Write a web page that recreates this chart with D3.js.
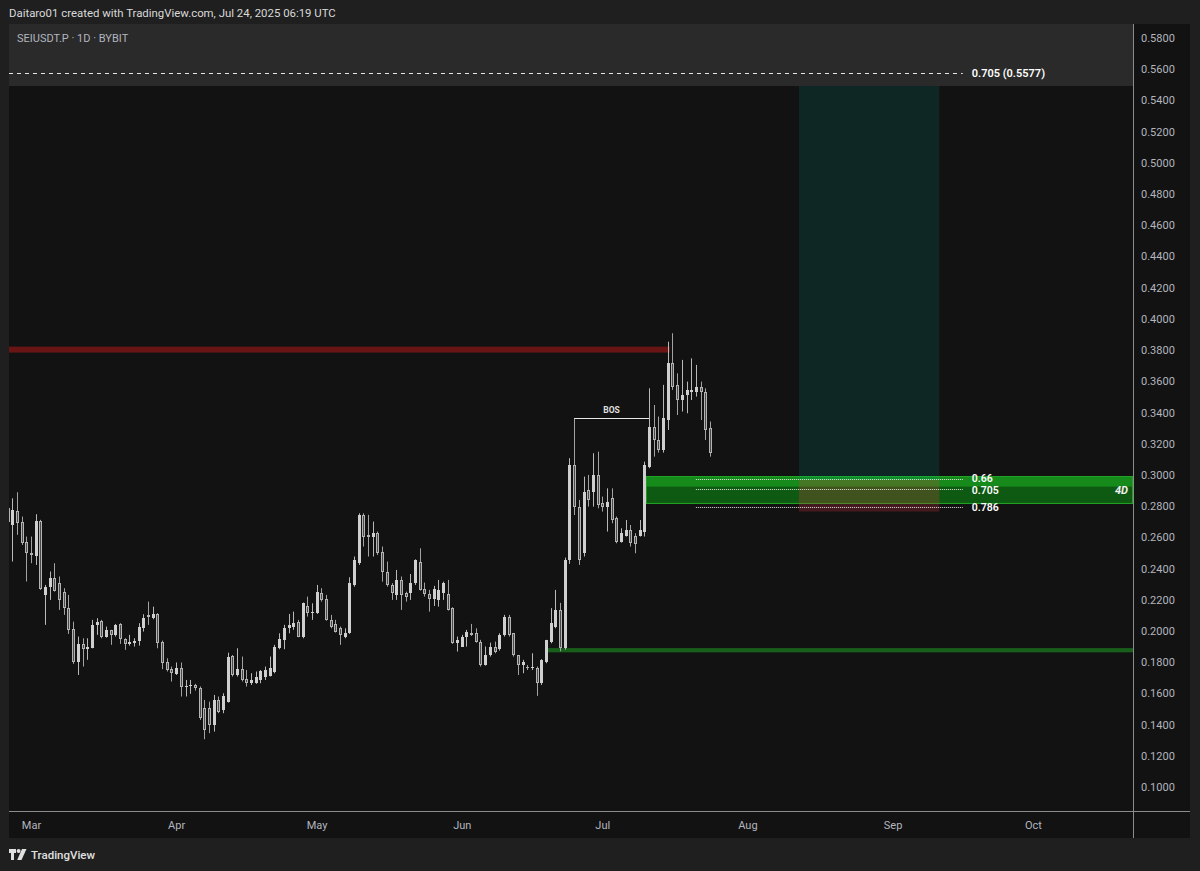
<!DOCTYPE html>
<html><head><meta charset="utf-8">
<script src="https://cdn.jsdelivr.net/npm/d3@7"></script>
<style>
html,body{margin:0;padding:0;background:#1f1f1f;}
svg{display:block;}
text{font-family:Roboto,"Liberation Sans",sans-serif;}
</style></head>
<body>
<svg id="c" width="1200" height="871"></svg>
<script>
// ---------------- DATA ----------------
const startDate = "2025-02-24"; // first daily candle
const opens  = [0.2790,0.2680,0.2771,0.2701,0.2573,
 0.2502,0.2481,0.2707,0.2231,0.2284,0.2342,0.2306,0.2252,0.2146,0.2011,0.1804,0.1917,0.1883,0.1889,0.2039,0.2067,0.1964,0.2003,0.1975,0.2043,0.1947,0.1915,0.1921,0.1936,0.2022,0.2103,0.2082,0.2109,0.1930,0.1798,0.1754,
 0.1723,0.1765,0.1644,0.1648,0.1654,0.1633,0.1505,0.1505,0.1398,0.1558,0.1494,0.1547,0.1840,0.1718,0.1755,0.1690,0.1669,0.1665,0.1686,0.1708,0.1712,0.1740,0.1889,0.1943,0.2017,0.2028,0.2060,0.1964,0.2160,0.2118,
 0.2113,0.2246,0.2203,0.2071,0.2045,0.2017,0.1964,0.1985,0.2295,0.2434,0.2744,0.2615,0.2605,0.2626,0.2509,0.2380,0.2295,0.2231,0.2327,0.2242,0.2242,0.2306,0.2445,0.2267,0.2237,0.2203,0.2199,0.2242,0.2237,0.2145,0.1921,
 0.1900,0.1964,0.1985,0.1985,0.1932,0.1782,0.1846,0.1900,0.1883,0.1975,0.2092,0.1985,0.1846,0.1782,0.1772,0.1761,0.1761,0.1665,0.1804,0.1932,0.2028,0.2135,0.1891,0.2455,0.3064,0.2797,0.2498,0.2904,0.2893,0.3000,
 0.2818,0.2797,0.2850,0.2722,0.2573,0.2609,0.2647,0.2609,0.2609,0.2637,0.3053,0.3310,0.3224,0.3160,0.3352,0.3715,0.3577,0.3480,0.3512,0.3534,0.3534,0.3566,0.3534,0.3299];
const highs  = [0.2830,0.2850,0.2889,0.2733,0.2605,
 0.2605,0.2748,0.2712,0.2295,0.2381,0.2434,0.2349,0.2274,0.2231,0.2060,0.1964,0.1953,0.1953,0.2071,0.2082,0.2071,0.2028,0.2007,0.2045,0.2050,0.1953,0.1975,0.1953,0.2050,0.2107,0.2188,0.2156,0.2114,0.1938,0.1825,0.1772,
 0.1798,0.1798,0.1686,0.1686,0.1661,0.1644,0.1558,0.1547,0.1590,0.1580,0.1601,0.1861,0.1846,0.1889,0.1836,0.1750,0.1729,0.1740,0.1750,0.1772,0.1836,0.1911,0.1985,0.2039,0.2109,0.2124,0.2071,0.2182,0.2220,0.2177,
 0.2295,0.2274,0.2231,0.2103,0.2071,0.2028,0.2017,0.2344,0.2477,0.2754,0.2754,0.2744,0.2701,0.2637,0.2541,0.2445,0.2306,0.2391,0.2349,0.2252,0.2365,0.2459,0.2530,0.2310,0.2263,0.2289,0.2327,0.2316,0.2327,0.2152,0.1964,
 0.1975,0.2007,0.2045,0.2017,0.1943,0.1900,0.1925,0.1932,0.1985,0.2103,0.2103,0.1985,0.1846,0.1815,0.1782,0.1857,0.1772,0.1819,0.1943,0.2146,0.2263,0.2180,0.2470,0.3107,0.3363,0.2840,0.2989,0.3000,0.3139,0.3149,
 0.2861,0.2914,0.2914,0.2733,0.2658,0.2711,0.2679,0.2626,0.2711,0.3085,0.3555,0.3448,0.3374,0.3577,0.3854,0.3908,0.3651,0.3737,0.3598,0.3747,0.3705,0.3598,0.3555,0.3342];
const lows   = [0.2680,0.2445,0.2616,0.2551,0.2317,
 0.2434,0.2423,0.2263,0.2039,0.2199,0.2252,0.2135,0.2103,0.1981,0.1789,0.1718,0.1772,0.1815,0.1889,0.1975,0.1953,0.1957,0.1911,0.1964,0.1917,0.1879,0.1906,0.1900,0.1906,0.1996,0.2039,0.2075,0.1889,0.1755,0.1740,0.1676,
 0.1718,0.1580,0.1580,0.1597,0.1618,0.1430,0.1306,0.1345,0.1355,0.1473,0.1473,0.1541,0.1708,0.1708,0.1676,0.1644,0.1654,0.1661,0.1665,0.1686,0.1708,0.1729,0.1883,0.1883,0.1985,0.2007,0.1960,0.1953,0.2092,0.2071,
 0.2109,0.2188,0.2066,0.2017,0.1990,0.1911,0.1953,0.1981,0.2284,0.2423,0.2541,0.2477,0.2477,0.2487,0.2316,0.2284,0.2199,0.2199,0.2135,0.2188,0.2199,0.2295,0.2259,0.2220,0.2124,0.2160,0.2156,0.2199,0.2131,0.1917,0.1868,
 0.1900,0.1900,0.1968,0.1925,0.1772,0.1778,0.1836,0.1857,0.1874,0.1964,0.1964,0.1836,0.1718,0.1729,0.1750,0.1750,0.1584,0.1654,0.1793,0.1921,0.2017,0.1870,0.1880,0.2430,0.2743,0.2423,0.2477,0.2797,0.2797,0.2786,
 0.2765,0.2637,0.2690,0.2562,0.2566,0.2605,0.2541,0.2498,0.2605,0.2605,0.3043,0.3117,0.3143,0.3143,0.3288,0.3545,0.3384,0.3406,0.3395,0.3480,0.3502,0.3352,0.3224,0.3117];
const closes = [0.2700,0.2776,0.2695,0.2562,0.2498,
 0.2487,0.2707,0.2267,0.2284,0.2338,0.2257,0.2199,0.2146,0.2007,0.1804,0.1917,0.1883,0.1900,0.2039,0.2056,0.1964,0.2007,0.1975,0.2035,0.1947,0.1915,0.1928,0.1936,0.2028,0.2086,0.2092,0.2107,0.1926,0.1793,0.1750,0.1733,
 0.1765,0.1644,0.1650,0.1654,0.1633,0.1441,0.1366,0.1398,0.1558,0.1483,0.1580,0.1836,0.1718,0.1757,0.1686,0.1669,0.1686,0.1703,0.1746,0.1750,0.1761,0.1900,0.1947,0.2022,0.2039,0.2054,0.1964,0.2177,0.2113,0.2124,
 0.2252,0.2199,0.2071,0.2028,0.1996,0.1975,0.1985,0.2306,0.2455,0.2744,0.2605,0.2600,0.2626,0.2498,0.2380,0.2295,0.2242,0.2327,0.2231,0.2220,0.2306,0.2455,0.2263,0.2237,0.2203,0.2267,0.2263,0.2306,0.2135,0.1921,0.1943,
 0.1964,0.1996,0.1975,0.1932,0.1782,0.1846,0.1900,0.1868,0.1975,0.2092,0.1975,0.1846,0.1782,0.1804,0.1761,0.1772,0.1665,0.1815,0.1943,0.2050,0.2135,0.1891,0.2455,0.3064,0.2797,0.2455,0.2893,0.2840,0.3000,0.2808,
 0.2797,0.2829,0.2711,0.2573,0.2626,0.2647,0.2562,0.2558,0.2647,0.3064,0.3310,0.3224,0.3160,0.3363,0.3715,0.3566,0.3480,0.3512,0.3544,0.3544,0.3566,0.3534,0.3288,0.3139];

const priceTicks = [0.10,0.12,0.14,0.16,0.18,0.20,0.22,0.24,0.26,0.28,0.30,0.32,0.34,0.36,0.38,0.40,0.42,0.44,0.46,0.48,0.50,0.52,0.54,0.56,0.58];
const monthTickDates = ["2025-03-01","2025-04-01","2025-05-01","2025-06-01","2025-07-01","2025-08-01","2025-09-01","2025-10-01"];
const monthTickLabels = ["Mar","Apr","May","Jun","Jul","Aug","Sep","Oct"];

// drawings
const resistanceBand = [0.3822, 0.3784];   const resistanceStart = "2025-02-20", resistanceEnd = "2025-07-15";
const supportBand = [0.1890, 0.1863];      const supportStart = "2025-06-19";
const zoneTop = 0.2993, zoneMid = 0.2925, zoneBottom = 0.2814; const zoneStart = "2025-07-10"; const zoneLabel = "4D";
const fibLabels = ["0.66","0.705","0.786"]; const fibPrices = [0.2974,0.2908,0.2793];
const fibLabelNudge = [-1, 1, 0];
const fibStart = "2025-07-21", fibEnd = "2025-09-16";
const topFibLabel = "0.705 (0.5577)", topFibPrice = 0.5577;
const posStart = "2025-08-12", posEnd = "2025-09-11";
const posEntry = 0.2968, posStop = 0.2765, posTarget = 0.62;
const bosLabel = "BOS", bosPrice = 0.3363, bosStart = "2025-06-25", bosEnd = "2025-07-11";

const titleText = "Daitaro01 created with TradingView.com, Jul 24, 2025 06:19 UTC";
const legendText = "SEIUSDT.P · 1D · BYBIT";

// ---------------- LAYOUT ----------------
const W = 1200, H = 871;
const plotL = 9, plotR = 1133, plotT = 24, plotB = 811, panelR = 1190, panelB = 838;
const svg = d3.select("#c");
const D = s => new Date(s + "T00:00:00Z");

const x = d3.scaleUtc().domain([D("2025-03-01"), D("2025-10-01")]).range([31, 1033]);
const y = d3.scaleLinear().domain([0.10, 0.58]).range([787, 38]);

const start = D(startDate);
const data = opens.map((o, i) => ({date: d3.utcDay.offset(start, i), o, h: highs[i], l: lows[i], c: closes[i]}));

svg.append("rect").attr("width", W).attr("height", H).attr("fill", "#1f1f1f");
svg.append("rect").attr("x", plotL).attr("y", plotT).attr("width", panelR - plotL).attr("height", panelB - plotT).attr("fill", "#121212");

const defs = svg.append("defs");
defs.append("clipPath").attr("id", "pc").append("rect")
  .attr("x", plotL).attr("y", plotT).attr("width", plotR - plotL).attr("height", plotB - plotT);

const g = svg.append("g").attr("clip-path", "url(#pc)");

// resistance (red) band
g.append("rect").attr("x", plotL).attr("y", y(resistanceBand[0]))
  .attr("width", x(D(resistanceEnd)) + 2 - plotL).attr("height", y(resistanceBand[1]) - y(resistanceBand[0]))
  .attr("fill", "#6a1515");

// support (green) line
g.append("rect").attr("x", x(D(supportStart))).attr("y", y(supportBand[0]))
  .attr("width", plotR - x(D(supportStart))).attr("height", y(supportBand[1]) - y(supportBand[0]))
  .attr("fill", "#185f1b");

// 4D zone
const zx0 = x(D(zoneStart)) + 1.5;
g.append("rect").attr("x", zx0).attr("y", y(zoneTop)).attr("width", plotR - zx0).attr("height", y(zoneBottom) - y(zoneTop)).attr("fill", "#0f5a12");
g.append("rect").attr("x", zx0).attr("y", y(zoneTop)).attr("width", plotR - zx0).attr("height", y(zoneMid) - y(zoneTop)).attr("fill", "#168a1b");
g.append("rect").attr("x", zx0 + 0.5).attr("y", y(zoneTop) + 0.5).attr("width", plotR - zx0 - 1).attr("height", y(zoneBottom) - y(zoneTop) - 1)
  .attr("fill", "none").attr("stroke", "#22a227").attr("stroke-width", 1);

// long position tool
const px0 = x(D(posStart)), px1 = x(D(posEnd));
g.append("rect").attr("x", px0).attr("y", y(posTarget)).attr("width", px1 - px0).attr("height", y(posEntry) - y(posTarget))
  .attr("fill", "rgba(0,170,150,0.14)");
g.append("rect").attr("x", px0).attr("y", y(posEntry)).attr("width", px1 - px0).attr("height", y(posStop) - y(posEntry))
  .attr("fill", "rgba(242,54,69,0.22)");

// candles
const cg = g.append("g");
data.forEach(d => {
  const cx = Math.round(x(d.date));
  const bull = d.c >= d.o;
  cg.append("line").attr("x1", cx + 0.5).attr("x2", cx + 0.5)
    .attr("y1", y(d.h)).attr("y2", y(d.l))
    .attr("stroke", bull ? "#b8b8b8" : "#a2a2a2").attr("stroke-width", 1);
  const top = Math.round(y(Math.max(d.o, d.c))), bot = Math.round(y(Math.min(d.o, d.c)));
  const hgt = Math.max(1, bot - top);
  if (bull) {
    cg.append("rect").attr("x", cx - 1).attr("y", top).attr("width", 3).attr("height", hgt).attr("fill", "#cfcfcf");
  } else {
    cg.append("rect").attr("x", cx - 1).attr("y", top).attr("width", 3).attr("height", hgt).attr("fill", "#b4b4b4");
    if (hgt > 2) cg.append("rect").attr("x", cx).attr("y", top + 1).attr("width", 1).attr("height", hgt - 2).attr("fill", "#4a4a4a");
  }
});

// BOS
const bx0 = x(D(bosStart)), bx1 = x(D(bosEnd));
g.append("line").attr("x1", bx0).attr("x2", bx1).attr("y1", Math.round(y(bosPrice)) + 0.5).attr("y2", Math.round(y(bosPrice)) + 0.5)
  .attr("stroke", "#e8e8e8").attr("stroke-width", 1.2);
g.append("text").attr("x", (bx0 + bx1) / 2).attr("y", y(bosPrice) - 5).attr("text-anchor", "middle")
  .attr("font-size", 8.5).attr("font-weight", "bold").attr("fill", "#e0e0e0").text(bosLabel);

// fib dotted lines + labels
const fx0 = x(D(fibStart)), fx1 = x(D(fibEnd));
fibPrices.forEach((p, i) => {
  g.append("line").attr("x1", fx0).attr("x2", fx1).attr("y1", Math.round(y(p)) + 0.5).attr("y2", Math.round(y(p)) + 0.5)
    .attr("stroke", "#ffffff").attr("stroke-width", 1).attr("stroke-dasharray", "1,1").attr("opacity", 0.85);
  g.append("text").attr("x", fx1 + 9).attr("y", y(p) + fibLabelNudge[i]).attr("dy", "0.35em")
    .attr("font-size", 10.5).attr("font-weight", 600).attr("fill", "#ffffff").text(fibLabels[i]);
});

// 4D label
g.append("text").attr("x", plotR - 5).attr("y", (y(zoneTop) + y(zoneBottom)) / 2).attr("dy", "0.35em")
  .attr("text-anchor", "end").attr("font-size", 11).attr("font-style", "italic").attr("font-weight", "bold")
  .attr("fill", "#f0f0f0").text(zoneLabel);

// header band (legend area)
svg.append("rect").attr("x", plotL).attr("y", plotT).attr("width", plotR - plotL).attr("height", 62).attr("fill", "#2a2a2a");
svg.append("text").attr("x", 17).attr("y", 42).attr("font-size", 11).attr("fill", "#b2b5be").text(legendText);

// top fib dashed line
svg.append("line").attr("x1", plotL).attr("x2", fx1).attr("y1", Math.round(y(topFibPrice)) + 0.5).attr("y2", Math.round(y(topFibPrice)) + 0.5)
  .attr("stroke", "#e6e6e6").attr("stroke-width", 1).attr("stroke-dasharray", "4,4");
svg.append("text").attr("x", fx1 + 9).attr("y", y(topFibPrice)).attr("dy", "0.35em")
  .attr("font-size", 11).attr("font-weight", 600).attr("fill", "#ffffff").text(topFibLabel);

// axes
const ya = svg.append("g").attr("transform", `translate(${plotR},0)`)
  .call(d3.axisRight(y).tickValues(priceTicks).tickFormat(d3.format(".4f")).tickSize(0).tickPadding(8));
ya.select(".domain").remove();
ya.selectAll("text").attr("font-size", 11).attr("fill", "#b2b5be").attr("font-family", "Roboto, 'Liberation Sans', sans-serif");

const xa = svg.append("g").attr("transform", `translate(0,${plotB})`)
  .call(d3.axisBottom(x).tickValues(monthTickDates.map(D)).tickFormat((d, i) => monthTickLabels[i]).tickSize(0).tickPadding(10));
xa.select(".domain").remove();
xa.selectAll("text").attr("font-size", 11).attr("fill", "#b2b5be").attr("font-family", "Roboto, 'Liberation Sans', sans-serif");

// separators
svg.append("line").attr("x1", plotR + 0.5).attr("x2", plotR + 0.5).attr("y1", plotT).attr("y2", panelB).attr("stroke", "#8c8c8c");
svg.append("line").attr("x1", plotL).attr("x2", panelR).attr("y1", plotB + 0.5).attr("y2", plotB + 0.5).attr("stroke", "#8c8c8c");

// title
svg.append("text").attr("x", 9).attr("y", 17).attr("font-size", 11.4).attr("fill", "#d9d9d9").text(titleText);

// TradingView footer logo
const lg = svg.append("g").attr("transform", "translate(9,849)").attr("fill", "#e0e0e0");
lg.append("path").attr("d", "M0 0H7V4H5V11H2V4H0Z");
lg.append("circle").attr("cx", 9.6).attr("cy", 2).attr("r", 2);
lg.append("path").attr("d", "M13 0H17.5L12.5 11H8.2Z");
svg.append("text").attr("x", 31).attr("y", 859).attr("font-size", 11.5).attr("font-weight", 500).attr("fill", "#e0e0e0").text("TradingView");
</script>
</body></html>
